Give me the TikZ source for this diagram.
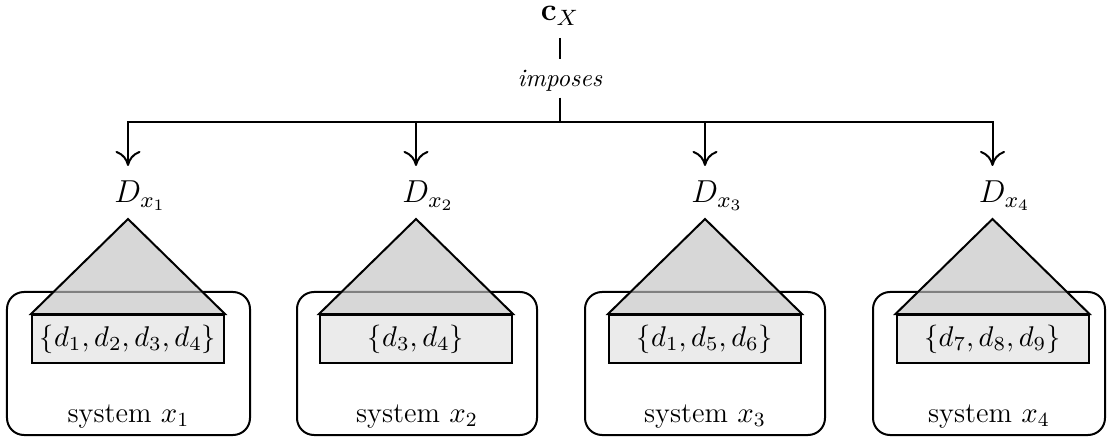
\RequirePackage{fix-cm}
\documentclass[tikz,border=0pt]{standalone}
\usetikzlibrary{arrows.meta}
\begin{document}
\begin{tikzpicture}[x=0.4pt,y=-0.4pt,line width=0.8pt,
  sysbox/.style={draw,rounded corners=6.8pt,minimum height=57.2pt,inner sep=0pt},
  setbox/.style={draw,fill=black!8,minimum width=76.8pt,minimum height=19.2pt,inner sep=0pt,
    font=\fontsize{11.4}{13}\selectfont},
  tri/.style={draw,fill=black!24,fill opacity=0.66,line join=miter},
  dlabel/.style={anchor=base,inner sep=3.33pt,font=\fontsize{12.7}{15}\selectfont},
  syslabel/.style={anchor=base,inner sep=0pt,font=\fontsize{11.5}{14}\selectfont},
  arr/.style={-{To[length=6pt,width=10pt]},shorten >=2.4pt}]
\useasboundingbox (0,0) rectangle (1107,439);

% top
\node[anchor=base,inner sep=0pt,font=\fontsize{12.7}{15}\selectfont] (cX) at (560,21) {$\mathbf{c}_X$};
\node[inner sep=2pt] (imp) at (560,81) {\textit{imposes}};
\coordinate (j) at (560,122);
\draw[shorten <=4.4pt,shorten >=2pt] (cX) -- (imp);
\draw (imp) -- (j);

% systems
\node[sysbox,minimum width=97.2pt] (S1) at (128.5,363.5) {};
\node[sysbox,minimum width=96pt]   (S2) at (417,363.5) {};
\node[sysbox,minimum width=96pt]   (S3) at (705,363.5) {};
\node[sysbox,minimum width=92.8pt] (S4) at (989,363.5) {};

\node[syslabel] (L1) at (128.5,422) {system $x_1$};
\node[syslabel] (L2) at (417,422) {system $x_2$};
\node[syslabel] (L3) at (705,422) {system $x_3$};
\node[syslabel] (L4) at (989,422) {system $x_4$};

\node[setbox] (R1) at (128,339) {$\{d_1, d_2, d_3, d_4\}$};
\node[setbox] (R2) at (416,339) {$\{d_3, d_4\}$};
\node[setbox] (R3) at (705,339) {$\{d_1, d_5, d_6\}$};
\node[setbox] (R4) at (992.5,339) {$\{d_7, d_8, d_9\}$};

\coordinate (A1) at (128,219);
\coordinate (A2) at (416,219);
\coordinate (A3) at (705,219);
\coordinate (A4) at (992.5,219);

\draw[tri] (R1.north west) -- (A1) -- (R1.north east) -- cycle;
\draw[tri] (R2.north west) -- (A2) -- (R2.north east) -- cycle;
\draw[tri] (R3.north west) -- (A3) -- (R3.north east) -- cycle;
\draw[tri] (R4.north west) -- (A4) -- (R4.north east) -- cycle;

\node[dlabel] (D1) at (128,203) {$D_{\rlap{$\scriptstyle x_1$}}$};
\node[dlabel] (D2) at (416,203) {$D_{\rlap{$\scriptstyle x_2$}}$};
\node[dlabel] (D3) at (705,203) {$D_{\rlap{$\scriptstyle x_3$}}$};
\node[dlabel] (D4) at (992.5,203) {$D_{\rlap{$\scriptstyle x_4$}}$};

\draw[arr] (j) -| (D1);
\draw[arr] (j) -| (D2);
\draw[arr] (j) -| (D3);
\draw[arr] (j) -| (D4);
\end{tikzpicture}
\end{document}
